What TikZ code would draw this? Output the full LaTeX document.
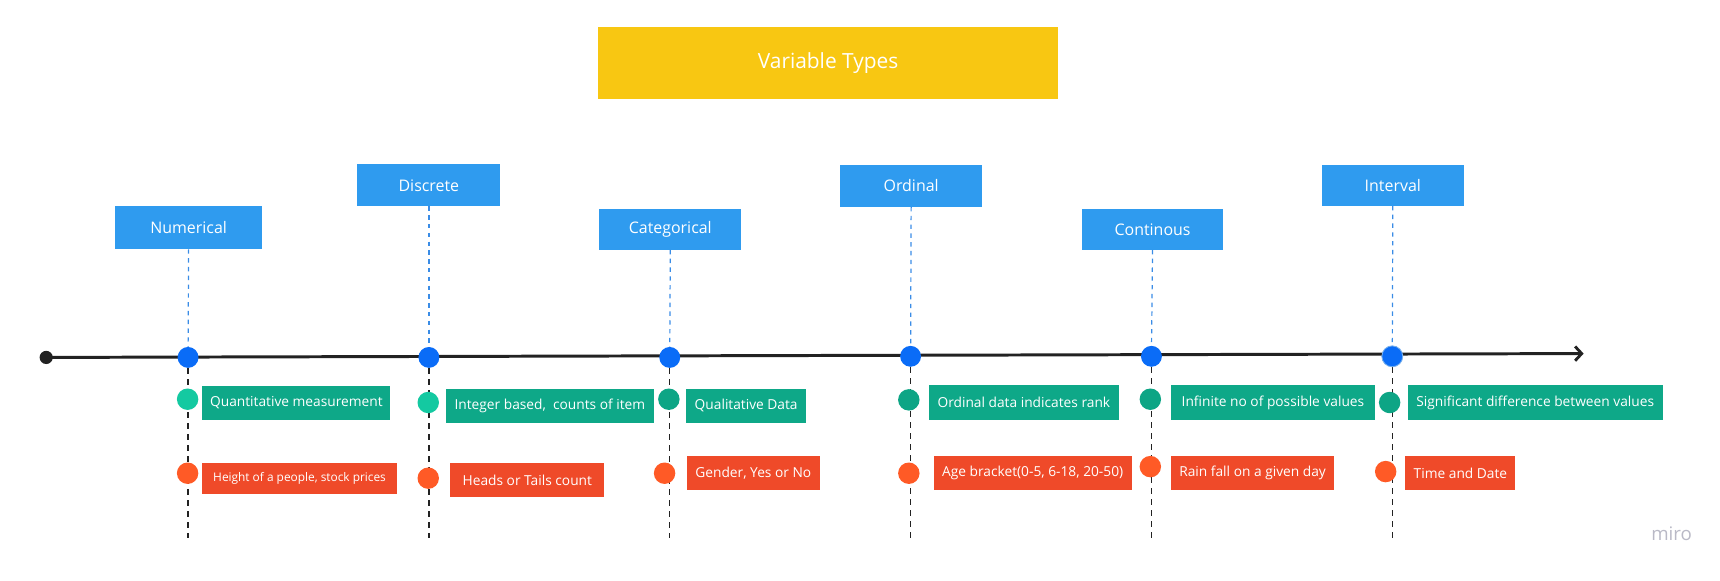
\documentclass[tikz,border=0pt]{standalone}
\usepackage{fontspec}
\setmainfont{Open Sans}
\usetikzlibrary{arrows.meta}
\definecolor{ttlyellow}{HTML}{F8C712}
\definecolor{boxblue}{HTML}{2F9BEF}
\definecolor{dotblue}{HTML}{0A6CF7}
\definecolor{dashblue}{HTML}{3A8CE6}
\definecolor{boxgreen}{HTML}{0EA888}
\definecolor{dotgreen}{HTML}{0DA585}
\definecolor{dotteal}{HTML}{14C9A1}
\definecolor{boxorange}{HTML}{EF4A29}
\definecolor{dotorange}{HTML}{FF5A26}
\definecolor{axisgray}{HTML}{222222}
\definecolor{mirogray}{HTML}{B9B9C6}
\tikzset{
  titlebox/.style={fill=ttlyellow, text=white, inner sep=0pt, font=\fontsize{19}{21}\selectfont},
  topbox/.style={fill=boxblue, text=white, inner sep=0pt, minimum height=38, font=\fontsize{14.5}{16}\selectfont},
  greenbox/.style={fill=boxgreen, text=white, inner sep=0pt, minimum height=31, font=\fontsize{12.5}{14}\selectfont},
  orangebox/.style={fill=boxorange, text=white, inner sep=0pt, minimum height=31, font=\fontsize{12.5}{14}\selectfont},
  bluedot/.style={circle, fill=dotblue, inner sep=0pt, minimum size=19},
  greendot/.style={circle, fill=dotgreen, inner sep=0pt, minimum size=19.5},
  tealdot/.style={circle, fill=dotteal, inner sep=0pt, minimum size=19.5},
  orangedot/.style={circle, fill=dotorange, inner sep=0pt, minimum size=19.5},
  startdot/.style={circle, fill=axisgray, inner sep=0pt, minimum size=12},
  bluedash/.style={draw=dashblue, line width=1.1pt, dash pattern=on 4pt off 4pt},
  blackdash/.style={draw=axisgray, line width=1.1pt, dash pattern=on 5pt off 5pt},
  axisline/.style={draw=axisgray, line width=2.7pt}
}
\begin{document}
\begin{tikzpicture}[x=1pt,y=-1pt]
\useasboundingbox (0,0) rectangle (1564,528);

% title
\node[titlebox, minimum width=418, minimum height=65.5] (title) at (753,57.5) {Variable Types};

% top category boxes
\node[topbox, minimum width=133, minimum height=39] (tNum) at (171.5,207) {Numerical};
\node[topbox, minimum width=130] (tDis) at (390,168.5) {Discrete};
\node[topbox, minimum width=129, minimum height=37] (tCat) at (609.5,208.5) {Categorical};
\node[topbox, minimum width=129] (tOrd) at (828.5,169) {Ordinal};
\node[topbox, minimum width=128, minimum height=37] (tCon) at (1048,208.5) {Continous};
\node[topbox, minimum width=129, minimum height=37] (tInt) at (1266.5,168.5) {Interval};

% bottom ends of the dashed drop lines
\coordinate (eNum) at (171,489);
\coordinate (eDis) at (390,489);
\coordinate (eCat) at (609,489);
\coordinate (eOrd) at (828,489);
\coordinate (eCon) at (1047,489);
\coordinate (eInt) at (1266,489);

% axis
\node[startdot] (start) at (42,325) {};
\coordinate (arrowend) at (1440,321.5);
\draw[axisline, -{Straight Barb[length=6pt,width=13pt,line width=2.6pt]}] (start.center) -- (arrowend);

% axis dots (positions)
\coordinate (pNum) at (171,325);
\coordinate (pDis) at (390,325);
\coordinate (pCat) at (609,325);
\coordinate (pOrd) at (828,324);
\coordinate (pCon) at (1047,324);
\coordinate (pInt) at (1266,324);

% dashed connectors
\draw[bluedash] (tNum.south) -- (pNum);
\draw[bluedash] (tDis.south) -- (pDis);
\draw[bluedash] (tCat.south) -- (pCat);
\draw[bluedash] (tOrd.south) -- (pOrd);
\draw[bluedash] (tCon.south) -- (pCon);
\draw[bluedash] (tInt.south) -- (pInt);
\draw[blackdash] (pNum) -- (eNum);
\draw[blackdash] (pDis) -- (eDis);
\draw[blackdash] (pCat) -- (eCat);
\draw[blackdash] (pOrd) -- (eOrd);
\draw[blackdash] (pCon) -- (eCon);
\draw[blackdash] (pInt) -- (eInt);

\node[bluedot] (bNum) at (pNum) {};
\node[bluedot] (bDis) at (pDis) {};
\node[bluedot] (bCat) at (pCat) {};
\node[bluedot] (bOrd) at (pOrd) {};
\node[bluedot] (bCon) at (pCon) {};
\node[bluedot, draw=dashblue!70, line width=0.8pt] (bInt) at (pInt) {};

% green row
\node[tealdot] (gdNum) at (170.6,363) {};
\node[tealdot] (gdDis) at (389.4,366) {};
\node[greendot] (gdCat) at (608.2,363) {};
\node[greendot] (gdOrd) at (826.4,363.6) {};
\node[greendot] (gdCon) at (1046,363) {};
\node[greendot] (gdInt) at (1263.6,366) {};

\node[greenbox, minimum width=171] (gNum) at (269.5,366.5) {Quantitative measurement};
\node[greenbox, minimum width=189] (gDis) at (500,369) {Integer based,\ \ counts of item};
\node[greenbox, minimum width=109] (gCat) at (678.5,369) {Qualitative Data};
\node[greenbox, minimum width=173] (gOrd) at (931,366) {Ordinal data indicates rank};
\node[greenbox, minimum width=185] (gCon) at (1157.5,366) {Infinite no of possible values};
\node[greenbox, minimum width=231.5] (gInt) at (1396,366) {Significant difference between values};

% orange row
\node[orangedot] (odNum) at (170.6,430.3) {};
\node[orangedot] (odDis) at (389.4,434.8) {};
\node[orangedot] (odCat) at (604.3,430.3) {};
\node[orangedot] (odOrd) at (826.4,430.3) {};
\node[orangedot] (odCon) at (1046,424.3) {};
\node[orangedot] (odInt) at (1260,428.8) {};

\node[orangebox, minimum width=177.6, minimum height=28, font=\fontsize{10.8}{12}\selectfont] (oNum) at (272.4,435.3) {Height of a people, stock prices};
\node[orangebox, minimum width=140] (oDis) at (479.5,436.8) {Heads or Tails count};
\node[orangebox, minimum width=121.5] (oCat) at (685,430.3) {Gender, Yes or No};
\node[orangebox, minimum width=180] (oOrd) at (939,430.3) {Age bracket(0-5, 6-18, 20-50)};
\node[orangebox, minimum width=148] (oCon) at (1139,430.3) {Rain fall on a given day};
\node[orangebox, minimum width=100] (oInt) at (1328,430.3) {Time and Date};

% watermark
\node[text=mirogray, inner sep=0pt, font=\fontsize{17}{19}\selectfont] (miro) at (1520,485) {miro};
\end{tikzpicture}
\end{document}
